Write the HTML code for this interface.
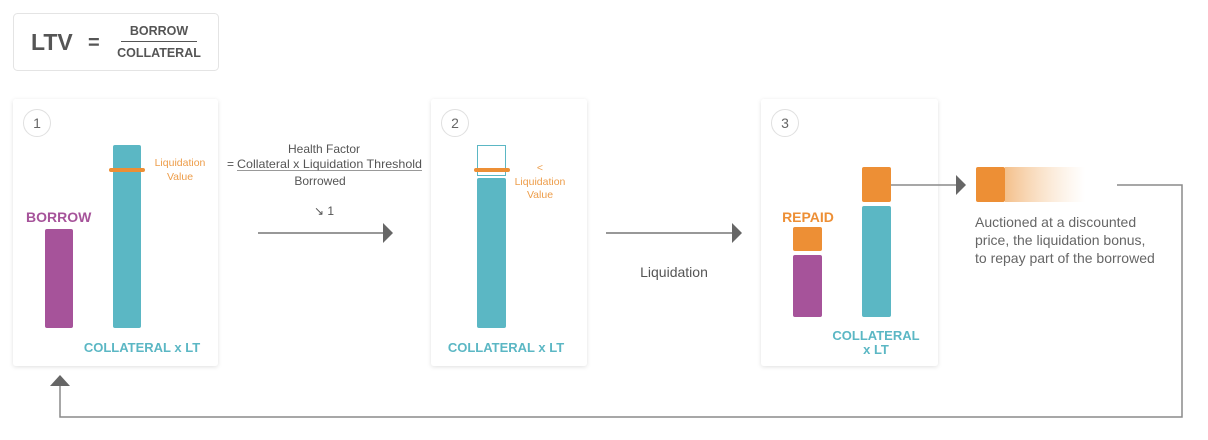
<!DOCTYPE html>
<html><head><meta charset="utf-8"><style>
html,body{margin:0;padding:0;background:#fff;}
svg{display:block;font-family:"Liberation Sans",sans-serif;}
</style></head><body>
<svg width="1208" height="440" viewBox="0 0 1208 440">
<defs>
<filter id="sh" x="-10%" y="-10%" width="120%" height="120%"><feDropShadow dx="0" dy="1" stdDeviation="2" flood-color="#000" flood-opacity="0.12"/></filter>
<linearGradient id="fade" x1="0" x2="1" y1="0" y2="0"><stop offset="0" stop-color="#f2b577" stop-opacity="0.85"/><stop offset="1" stop-color="#f7d3ac" stop-opacity="0"/></linearGradient>
</defs>
<g>
<rect x="13.5" y="13.5" width="205" height="57" rx="4" fill="#fff" stroke="#e4e4e4"/>
<text x="31" y="50" font-size="23" font-weight="bold" fill="#555">LTV</text>
<text x="88" y="49" font-size="20" font-weight="bold" fill="#555">=</text>
<text x="159" y="35" font-size="12.5" font-weight="bold" fill="#555" text-anchor="middle">BORROW</text>
<line x1="121" y1="41.5" x2="197" y2="41.5" stroke="#555" stroke-width="1"/>
<text x="159" y="57" font-size="12.5" font-weight="bold" fill="#555" text-anchor="middle">COLLATERAL</text>
</g>
<g>
<rect x="13" y="99" width="205" height="267" rx="3" fill="#fff" filter="url(#sh)"/>
<circle cx="37" cy="123" r="13.5" fill="#fff" stroke="#e0e0e0"/>
<text x="37" y="128" font-size="14" fill="#666" text-anchor="middle">1</text>
<text x="26" y="222" font-size="14" font-weight="bold" fill="#a6539a">BORROW</text>
<rect x="45" y="229" width="28" height="99" rx="2" fill="#a6539a"/>
<rect x="113" y="145" width="28" height="183" rx="2" fill="#5bb7c4"/>
<rect x="109" y="168" width="36" height="4" rx="2" fill="#ed8f35"/>
<text x="180" y="166" font-size="10.5" fill="#ed9d4a" text-anchor="middle">Liquidation</text>
<text x="180" y="180" font-size="10.5" fill="#ed9d4a" text-anchor="middle">Value</text>
<text x="142" y="352" font-size="13" font-weight="bold" fill="#5bb7c4" text-anchor="middle">COLLATERAL x LT</text>
</g>
<g>
<text x="324" y="153" font-size="12" fill="#555" text-anchor="middle">Health Factor</text>
<text x="227" y="168" font-size="12" fill="#555">=</text>
<text x="237" y="168" font-size="12" fill="#555" textLength="185" lengthAdjust="spacingAndGlyphs">Collateral x Liquidation Threshold</text>
<line x1="237" y1="170.5" x2="422" y2="170.5" stroke="#777" stroke-width="0.8"/>
<text x="320" y="185" font-size="12" fill="#555" text-anchor="middle">Borrowed</text>
<text x="324" y="215" font-size="12" fill="#555" text-anchor="middle">↘ 1</text>
</g>
<g>
<line x1="258" y1="233" x2="384" y2="233" stroke="#777" stroke-width="1.5"/>
<polygon points="383,223 393,233 383,243" fill="#666"/>
</g>
<g>
<rect x="431" y="99" width="156" height="267" rx="3" fill="#fff" filter="url(#sh)"/>
<circle cx="455" cy="123" r="13.5" fill="#fff" stroke="#e0e0e0"/>
<text x="455" y="128" font-size="14" fill="#666" text-anchor="middle">2</text>
<rect x="477.5" y="145.5" width="28" height="30" fill="#fff" stroke="#5bb7c4"/>
<rect x="477" y="178" width="29" height="150" rx="2" fill="#5bb7c4"/>
<rect x="474" y="168" width="36" height="4" rx="2" fill="#ed8f35"/>
<text x="540" y="171" font-size="10.5" fill="#ed9d4a" text-anchor="middle">&lt;</text>
<text x="540" y="185" font-size="10.5" fill="#ed9d4a" text-anchor="middle">Liquidation</text>
<text x="540" y="198" font-size="10.5" fill="#ed9d4a" text-anchor="middle">Value</text>
<text x="506" y="352" font-size="13" font-weight="bold" fill="#5bb7c4" text-anchor="middle">COLLATERAL x LT</text>
</g>
<g>
<line x1="606" y1="233" x2="733" y2="233" stroke="#777" stroke-width="1.5"/>
<polygon points="732,223 742,233 732,243" fill="#666"/>
<text x="674" y="277" font-size="14" fill="#555" text-anchor="middle">Liquidation</text>
</g>
<g>
<rect x="761" y="99" width="177" height="267" rx="3" fill="#fff" filter="url(#sh)"/>
<circle cx="785" cy="123" r="13.5" fill="#fff" stroke="#e0e0e0"/>
<text x="785" y="128" font-size="14" fill="#666" text-anchor="middle">3</text>
<text x="808" y="222" font-size="14" font-weight="bold" fill="#ed8f35" text-anchor="middle">REPAID</text>
<rect x="793" y="227" width="29" height="24" rx="2" fill="#ed8f35"/>
<rect x="793" y="255" width="29" height="62" rx="2" fill="#a6539a"/>
<rect x="862" y="167" width="29" height="35" rx="2" fill="#ed8f35"/>
<rect x="862" y="206" width="29" height="111" rx="2" fill="#5bb7c4"/>
<text x="876" y="340" font-size="13" font-weight="bold" fill="#5bb7c4" text-anchor="middle">COLLATERAL</text>
<text x="876" y="354" font-size="13" font-weight="bold" fill="#5bb7c4" text-anchor="middle">x LT</text>
</g>
<g>
<line x1="891" y1="185" x2="957" y2="185" stroke="#8a8a8a" stroke-width="1.5"/>
<polygon points="956,175 966,185 956,195" fill="#666"/>
<rect x="1005" y="167" width="80" height="35" fill="url(#fade)"/>
<rect x="976" y="167" width="29" height="35" rx="2" fill="#ed8f35"/>
<text font-size="14" fill="#666">
<tspan x="975" y="227">Auctioned at a discounted</tspan>
<tspan x="975" y="245">price, the liquidation bonus,</tspan>
<tspan x="975" y="263">to repay part of the borrowed</tspan>
</text>
</g>
<g>
<polyline points="1117,185 1182,185 1182,417 60,417 60,385" fill="none" stroke="#8a8a8a" stroke-width="1.5"/>
<polygon points="50,386 60,375 70,386" fill="#666"/>
</g>
</svg>
</body></html>
